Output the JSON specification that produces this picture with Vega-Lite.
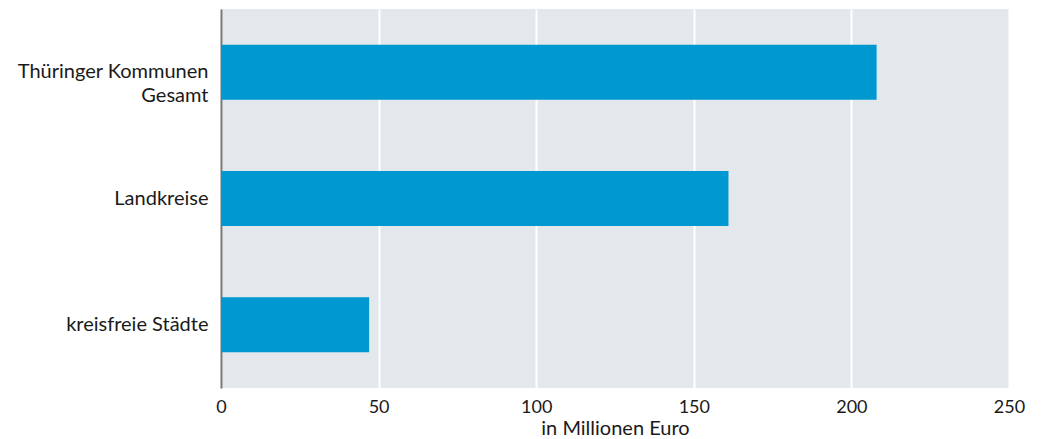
{
  "$schema": "https://vega.github.io/schema/vega-lite/v6.json",
  "width": 788,
  "height": 379,
  "autosize": {"type": "none"},
  "padding": {"left": 221, "top": 9, "right": 32, "bottom": 51},
  "background": "white",
  "data": {"values": [
    {"kategorie": "Thüringer Kommunen Gesamt", "wert": 208},
    {"kategorie": "Landkreise", "wert": 161},
    {"kategorie": "kreisfreie Städte", "wert": 47}
  ]},
  "config": {
    "view": {"fill": "#e3e8ec", "stroke": null},
    "font": "Lato"
  },
  "mark": {"type": "bar", "color": "#0098d1"},
  "encoding": {
    "y": {
      "field": "kategorie", "type": "nominal", "sort": null,
      "scale": {"paddingInner": 0.565, "paddingOuter": 0.2825},
      "axis": {
        "title": null, "ticks": false, "grid": false,
        "domain": true, "domainColor": "#777777", "domainWidth": 2,
        "labelFont": "Lato", "labelFontSize": 20, "labelColor": "#1a1a1a",
        "labelPadding": 13, "labelLimit": 300, "labelLineHeight": 24,
        "labelExpr": "datum.value == 'Thüringer Kommunen Gesamt' ? ['Thüringer Kommunen', 'Gesamt'] : datum.value"
      }
    },
    "x": {
      "field": "wert", "type": "quantitative",
      "scale": {"domain": [0, 250], "nice": false},
      "axis": {
        "title": "in Millionen Euro", "values": [0, 50, 100, 150, 200, 250],
        "ticks": false, "domain": false,
        "grid": true, "gridColor": "white", "gridWidth": 2,
        "labelFont": "Lato", "labelFontSize": 18, "labelColor": "#1a1a1a",
        "labelPadding": 10, "labelFlush": false,
        "titleFont": "Lato", "titleFontSize": 20, "titleFontWeight": "normal", "titleColor": "#1a1a1a",
        "titlePadding": 2
      }
    }
  }
}
